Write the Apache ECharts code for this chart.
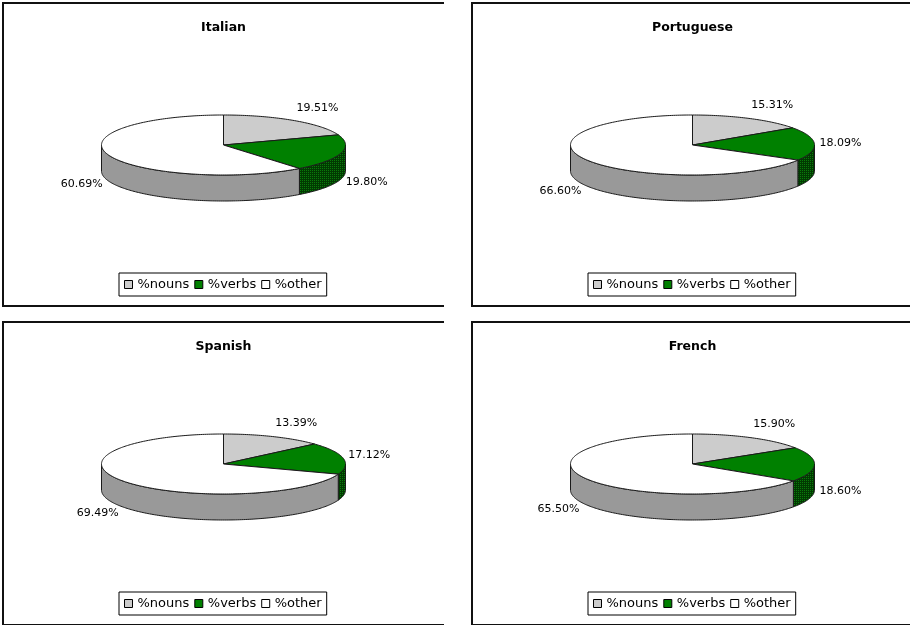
<!DOCTYPE html>
<html>
<head>
<meta charset="utf-8">
<script src="https://cdn.jsdelivr.net/npm/echarts@6/dist/echarts.min.js"></script>
<style>
  html, body { margin: 0; padding: 0; background: #ffffff; }
  #chart { width: 910px; height: 625px; }
</style>
</head>
<body>
<div id="chart"></div>
<script>
// Word-class shares per language (percent)
const languages = ['Italian', 'Portuguese', 'Spanish', 'French'];
const categories = ['%nouns', '%verbs', '%other'];
const nouns = [19.51, 15.31, 13.39, 15.90];
const verbs = [19.80, 18.09, 17.12, 18.60];
const other = [60.69, 66.60, 69.49, 65.50];

// ---- layout ----
const PANEL_W = 441, PANEL_H = 303;
const origins = [[3, 3], [472, 3], [3, 322], [472, 322]];
const PIE = { cx: 220.5, cy: 142, rx: 122, ry: 30, depth: 26 };
const FONT = '"DejaVu Sans", Verdana, sans-serif';
const EDGE = '#1a1a1a';

// dotted dark-green fill for the side wall of the verbs slice
function greenDots() {
  const c = document.createElement('canvas');
  c.width = 2; c.height = 2;
  const g = c.getContext('2d');
  g.fillStyle = '#013a01'; g.fillRect(0, 0, 2, 2);
  g.fillStyle = '#0a7a0a'; g.fillRect(0, 0, 1, 1);
  return { image: c, repeat: 'repeat' };
}

const topFill = ['#cccccc', '#008000', '#ffffff'];
const sideFill = ['#8a8a8a', greenDots(), '#999999'];

const valuesByCat = [nouns, verbs, other];

function renderSlice(params, api) {
  const p = api.value(0), start = api.value(1), val = api.value(2), c = api.value(3);
  const cx = origins[p][0] + PIE.cx, cy = origins[p][1] + PIE.cy;
  const a0 = start / 100 * 2 * Math.PI;
  const a1 = (start + val) / 100 * 2 * Math.PI;
  const pt = (a, z) => [cx + PIE.rx * Math.sin(a), cy - PIE.ry * Math.cos(a) + z];
  const arc = (from, to, z) => {
    const n = Math.max(2, Math.ceil(Math.abs(to - from) / (Math.PI / 180)));
    const out = [];
    for (let i = 0; i <= n; i++) out.push(pt(from + (to - from) * i / n, z));
    return out;
  };
  const children = [];
  // visible front wall (between 3 and 9 o'clock)
  const s0 = Math.max(a0, Math.PI / 2), s1 = Math.min(a1, 1.5 * Math.PI);
  if (s1 > s0) {
    children.push({
      type: 'polygon',
      shape: { points: arc(s0, s1, 0).concat(arc(s1, s0, PIE.depth)) },
      style: { fill: sideFill[c], stroke: EDGE, lineWidth: 1 }
    });
  }
  // top face
  children.push({
    type: 'polygon',
    shape: { points: [[cx, cy]].concat(arc(a0, a1, 0)) },
    style: { fill: topFill[c], stroke: EDGE, lineWidth: 1 }
  });
  // value label outside the rim
  const mid = (a0 + a1) / 2;
  const s = Math.sin(mid), co = Math.cos(mid);
  const right = s >= 0;
  const lx = cx + (PIE.rx + (right ? 5 : 6)) * s;
  const ly = co > 0
    ? cy - (PIE.ry + 15) * co
    : cy + PIE.depth + 1 + (PIE.ry + 8) * (-co);
  children.push({
    type: 'text',
    style: {
      text: val.toFixed(2) + '%',
      x: lx, y: ly,
      align: right ? 'left' : 'right',
      verticalAlign: 'middle',
      font: '11px ' + FONT,
      fill: '#000000'
    }
  });
  return { type: 'group', children };
}

const series = [];
languages.forEach((lang, p) => {
  let acc = 0;
  categories.forEach((cat, c) => {
    const v = valuesByCat[c][p];
    series.push({
      type: 'custom',
      name: cat,
      coordinateSystem: 'none',
      silent: true,
      animation: false,
      itemStyle: { color: topFill[c] },
      renderItem: renderSlice,
      data: [[p, acc, v, c]]
    });
    acc += v;
  });
});

const titles = languages.map((lang, p) => ({
  text: lang,
  left: origins[p][0] + PIE.cx,
  top: origins[p][1] + 18,
  textAlign: 'center',
  padding: 0,
  textStyle: { fontFamily: FONT, fontWeight: 'bold', fontSize: 12.5, color: '#000000' }
}));

const legends = languages.map((lang, p) => ({
  data: categories,
  left: origins[p][0] + 116,
  top: origins[p][1] + 270,
  orient: 'horizontal',
  selectedMode: false,
  icon: 'rect',
  itemWidth: 8,
  itemHeight: 8,
  itemGap: 5,
  padding: [5, 5],
  borderColor: '#000000',
  borderWidth: 1,
  itemStyle: { borderColor: '#000000', borderWidth: 1 },
  textStyle: { fontFamily: FONT, fontSize: 13, color: '#000000' }
}));

const frames = origins.map(([x, y]) => ({
  type: 'polyline',
  silent: true,
  shape: { points: [[x + PANEL_W, y], [x, y], [x, y + PANEL_H], [x + PANEL_W, y + PANEL_H]] },
  style: { stroke: '#111111', lineWidth: 2, fill: null }
}));

const chart = echarts.init(document.getElementById('chart'), null, { renderer: 'canvas' });
chart.setOption({
  backgroundColor: '#ffffff',
  animation: false,
  title: titles,
  legend: legends,
  graphic: frames,
  series: series
});
</script>
</body>
</html>
